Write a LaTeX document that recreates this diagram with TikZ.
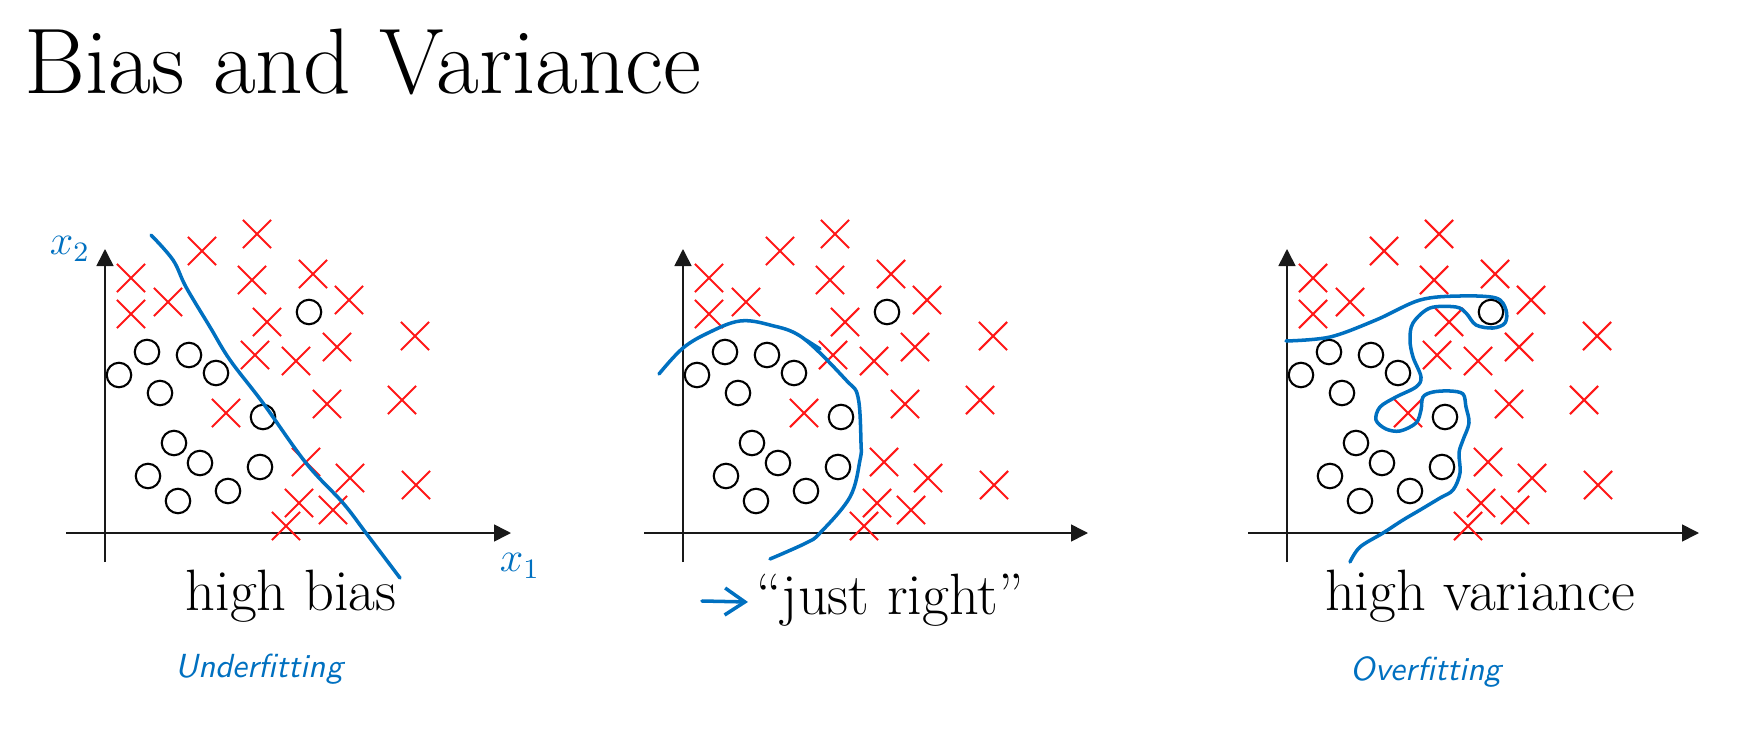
\documentclass[tikz,border=0pt]{standalone}
\usepackage{fontspec}
\usepackage{tikz}
\usetikzlibrary{arrows.meta}
\usetikzlibrary{shapes.misc}

\definecolor{penblue}{RGB}{0,112,192}
\definecolor{xred}{RGB}{255,24,24}

\newcommand{\crosslist}{26/255, 97/282, 152/299, 147/253, 208/259, 26/219, 63/231, 244/233, 162/211, 310/197, 150/178, 191/172, 232/186, 121/120, 222/129, 297/133, 201/71, 245/55, 311/48, 194/30, 228/23, 181/7}
\newcommand{\circlelist}{204/221, 14/158, 42/181, 84/178, 111/160, 55/140, 158/116, 69/90, 95/70, 43/57, 155/66, 73/32, 123/42}

\tikzset{
    axis/.style={draw=black!90, line width=0.45pt, -{Triangle[length=1.7mm, width=1.7mm]}},
    xmark/.style={cross out, draw=xred, line width=0.6pt, minimum size=2.6mm, inner sep=0pt},
    omark/.style={circle, draw=black, line width=0.6pt, minimum size=2.45mm, inner sep=0pt},
    boundary/.style={draw=penblue, line width=1pt, line cap=round, line join=round},
    hand/.style={text=penblue, font=\sffamily\itshape\fontsize{9.5}{10}\selectfont, inner sep=0pt, anchor=base},
    caption/.style={font=\fontsize{16.6}{19}\selectfont\addfontfeatures{LetterSpace=2}, inner sep=0pt, anchor=base}
}

\begin{document}
\begin{tikzpicture}[x=0.1mm, y=0.1mm]
    \useasboundingbox (0,0) rectangle (1744,749);
    \node [anchor=base west, inner sep=0pt, font=\fontsize{26.5}{31}\selectfont\addfontfeatures{LetterSpace=4}] (title) at (24,656) {Bias and Variance};
    \foreach \p/\ox/\len in {1/105/406, 2/683/405, 3/1287/412} {
        \begin{scope}[shift={(\ox,216)}]
            \coordinate (xl\p) at (-39,0);
            \coordinate (xr\p) at (\len,0);
            \coordinate (yb\p) at (0,-29);
            \coordinate (yt\p) at (0,284);
            \draw [axis] (xl\p) -- (xr\p);
            \draw [axis] (yb\p) -- (yt\p);
            \foreach \x/\y [count=\k] in \crosslist
                \node [xmark] (x\p-\k) at (\x,\y) {};
            \foreach \x/\y [count=\k] in \circlelist
                \node [omark] (o\p-\k) at (\x,\y) {};
        \end{scope}
    }
    \begin{scope}[shift={(105,216)}]
        \draw [boundary] plot [smooth, tension=0.6] coordinates {(46,298) (68,273) (81,246) (105,206) (125,173) (158,130) (201,70) (238,30) (261,0) (295,-45)};
    \end{scope}
    \begin{scope}[shift={(683,216)}]
        \draw [boundary] plot [smooth, tension=0.6] coordinates {(-24,159) (0,185) (27,201) (57,212) (87,208) (120,195) (163,153) (175,136) (178,90) (177,73) (167,36) (137,0) (123,-10) (87,-26)};
        \draw [boundary] (123,193) -- (137,184);
    \end{scope}
    \begin{scope}[shift={(1287,216)}]
        \draw [boundary] plot [smooth, tension=0.55] coordinates {(-1,192) (43,196) (89,213) (133,233) (173,237) (209,235) (219,223) (218,210) (206,205) (189,208) (179,220) (169,226) (143,225) (126,210) (123,193) (126,176) (134,156) (129,146) (109,136) (93,126) (89,113) (99,104) (113,102) (129,110) (134,123) (136,136) (146,141) (163,142) (176,139) (179,126) (182,110) (176,93) (172,80) (173,60) (166,43) (153,35) (133,23) (116,13) (96,0) (73,-14) (63,-29)};
    \end{scope}
    \node [text=penblue, inner sep=0pt, font=\fontsize{11.5}{12}\selectfont] (xtwo) at (70,500) {$x_2$};
    \node [text=penblue, inner sep=0pt, font=\fontsize{11.5}{12}\selectfont] (xone) at (520,183) {$x_1$};
    \node [caption] (bias) at (291,139) {high bias};
    \node [caption] (right) at (890,135) {``just right''};
    \node [caption] (variance) at (1480,139) {high variance};
    \coordinate (pointtail) at (702,148);
    \coordinate (pointhead) at (748,147);
    \draw [boundary, -{Straight Barb[length=2mm, width=2.7mm]}] (pointtail) -- (pointhead);
    \node [hand] (under) at (259,72) {Underfitting};
    \node [hand] (over) at (1426,69) {Overfitting};
\end{tikzpicture}
\end{document}
